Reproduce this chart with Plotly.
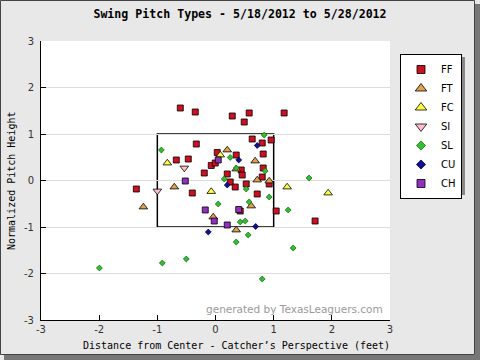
import plotly.graph_objects as go

# ---- data (feet from center, normalized height) ----
ff_x = [-0.605, -0.348, 0.288, 0.579, 0.494, 1.180, -0.330, -0.674, -0.468, -0.193, -0.073, -0.004,
        0.030, 0.631, 0.803, 0.957, 0.820, 0.356, 0.820, 0.442, 0.459, 0.202, 0.253, 0.803, 0.923,
        0.528, 0.339, -1.361, -0.399, 0.717, 1.043, 1.712, 0.425]
ff_y = [1.559, 1.473, 1.387, 1.452, 1.258, 1.452, 0.785, 0.441, 0.462, 0.161, 0.323, 0.376,
        0.602, 0.892, 0.806, 0.871, 0.570, 0.548, 0.269, 0.226, 0.118, 0.140, -0.032, 0.075, -0.075,
        -0.075, -0.140, -0.183, -0.269, -0.290, -0.656, -0.871, -0.656]
ft_x = [0.202, 0.682, 0.356, 0.717, 0.923, -0.708, -1.240, 0.614, -0.039, 0.356]
ft_y = [0.656, 0.419, 0.247, 0.011, -0.011, -0.140, -0.570, -0.548, -0.785, -1.065]
fc_x = [-0.828, 0.082, -0.073, 1.232, 1.936]
fc_y = [0.376, 0.548, -0.237, -0.140, -0.269]
si_x = [-0.536, -1.000]
si_y = [0.269, -0.226]
sl_x = [-0.931, 0.837, 0.253, 0.356, 0.854, 0.150, 0.528, 1.609, 0.047, 0.579, 0.923, 1.249,
        0.425, 0.511, 0.562, 0.356, 1.335, -0.502, -0.914, -1.996, 0.803]
sl_y = [0.656, 0.978, 0.495, 0.269, 0.204, 0.032, -0.183, 0.054, -0.505, -0.462, -0.355, -0.634,
        -0.892, -0.871, -1.172, -1.323, -1.452, -1.688, -1.774, -1.882, -2.118]
cu_x = [0.717, 0.399, 0.202, -0.124, 0.691]
cu_y = [0.753, 0.441, -0.097, -1.108, -0.989]
ch_x = [-0.519, 0.047, -0.176, 0.399, -0.021, 0.202]
ch_y = [-0.011, 0.441, -0.634, -0.624, -0.871, -0.957]

tick_vals = [-3, -2, -1, 0, 1, 2, 3]
tick_text = ["-3", "-2", "-1", "0", "1", "2", "3"]

# name, x, y, symbol, fill, plot size, legend size, outline
series = [
    ("FF", ff_x, ff_y, "square", "#cc1020", 6, 8, "#000000"),
    ("FT", ft_x, ft_y, "triangle-up", "#e0a050", 7.5, 10, "#000000"),
    ("FC", fc_x, fc_y, "triangle-up", "#ffff40", 7.5, 10, "#000000"),
    ("SI", si_x, si_y, "triangle-down", "#ffc0cb", 7.5, 10, "#000000"),
    ("SL", sl_x, sl_y, "diamond", "#30c030", 4.5, 7, "#1a6a1a"),
    ("CU", cu_x, cu_y, "diamond", "#101090", 4.5, 7, "#000040"),
    ("CH", ch_x, ch_y, "square", "#9030c0", 6, 8, "#000000"),
]

fig = go.Figure()
for name, xs, ys, sym, col, sz, lsz, lc in series:
    fig.add_trace(go.Scatter(
        x=xs, y=ys, mode="markers", name=name, showlegend=False, legendgroup=name,
        marker=dict(symbol=sym, color=col, size=sz, line=dict(color=lc, width=0.8)),
    ))
for name, xs, ys, sym, col, sz, lsz, lc in series:
    fig.add_trace(go.Scatter(
        x=[None], y=[None], mode="markers", name=name, showlegend=True, legendgroup=name,
        marker=dict(symbol=sym, color=col, size=lsz, line=dict(color=lc, width=0.8)),
    ))

# plot area in pixels: x 41..390, y 41..320
L, R, T, B = 41, 390, 41, 320
W, H = R - L, B - T
def px(p):
    return (p - L) / W
def py(p):
    return (B - p) / H

shapes = [
    # strike zone
    dict(type="rect", xref="x", yref="y", x0=-1, x1=1, y0=-1, y1=1,
         line=dict(color="black", width=1.5), layer="below"),
    # figure frame & shadow
    dict(type="rect", xref="paper", yref="paper", x0=px(475), x1=px(480), y0=py(4), y1=py(360),
         fillcolor="#777777", line=dict(width=0)),
    dict(type="rect", xref="paper", yref="paper", x0=px(4), x1=px(480), y0=py(355), y1=py(360),
         fillcolor="#777777", line=dict(width=0)),
    dict(type="rect", xref="paper", yref="paper", x0=px(0.5), x1=px(474.5), y0=py(0.5), y1=py(354.5),
         line=dict(color="#444444", width=1)),
    # legend shadow
    dict(type="rect", xref="paper", yref="paper", x0=px(403), x1=px(465), y0=py(57), y1=py(195),
         fillcolor="#888888", line=dict(width=0)),
]

fig.update_layout(
    width=480, height=360,
    margin=dict(l=L, r=480 - R, t=T, b=360 - B, autoexpand=False),
    paper_bgcolor="#e8e8e8", plot_bgcolor="white",
    title=dict(text="<b>Swing Pitch Types - 5/18/2012 to 5/28/2012</b>",
               x=0.5, xref="container", xanchor="center", y=1 - 14 / 360, yanchor="middle",
               font=dict(family="DejaVu Sans Mono", size=11.6, color="black")),
    shapes=shapes,
    showlegend=True,
    legend=dict(x=px(400), y=py(54), xanchor="left", yanchor="top",
                bgcolor="white", bordercolor="black", borderwidth=1,
                font=dict(family="DejaVu Sans", size=10, color="black"),
                itemwidth=30, tracegroupgap=0),
    annotations=[
        dict(text="generated by TexasLeaguers.com", xref="paper", yref="paper",
             x=px(385), y=py(309), xanchor="right", yanchor="middle", showarrow=False,
             font=dict(family="DejaVu Sans", size=10.5, color="#9a9a9a")),
        dict(text="Distance from Center - Catcher\u2019s Perspective (feet)", xref="paper", yref="paper",
             x=px(236), y=py(345), xanchor="center", yanchor="middle", showarrow=False,
             font=dict(family="DejaVu Sans Mono", size=10, color="black")),
        dict(text="Normalized Pitch Height", xref="paper", yref="paper", textangle=-90,
             x=px(11), y=py(181), xanchor="center", yanchor="middle", showarrow=False,
             font=dict(family="DejaVu Sans Mono", size=10, color="black")),
    ],
)
fig.update_xaxes(range=[-3, 3], tickvals=tick_vals, ticktext=tick_text, showgrid=False,
                 zeroline=False, showline=True, linecolor="black", linewidth=1,
                 ticks="inside", ticklen=5, tickcolor="black", automargin=False,
                 tickfont=dict(family="DejaVu Sans", size=10, color="#333333"))
fig.update_yaxes(range=[-3, 3], tickvals=tick_vals, ticktext=tick_text, showgrid=True,
                 gridcolor="#dcdcdc", zeroline=False, showline=True, linecolor="black", linewidth=1,
                 ticks="inside", ticklen=5, tickcolor="black", automargin=False,
                 ticklabelstandoff=4,
                 tickfont=dict(family="DejaVu Sans", size=10, color="#333333"))

fig.write_html("out.html", config={"displayModeBar": False},
               post_script="document.body.style.margin='0px';")
